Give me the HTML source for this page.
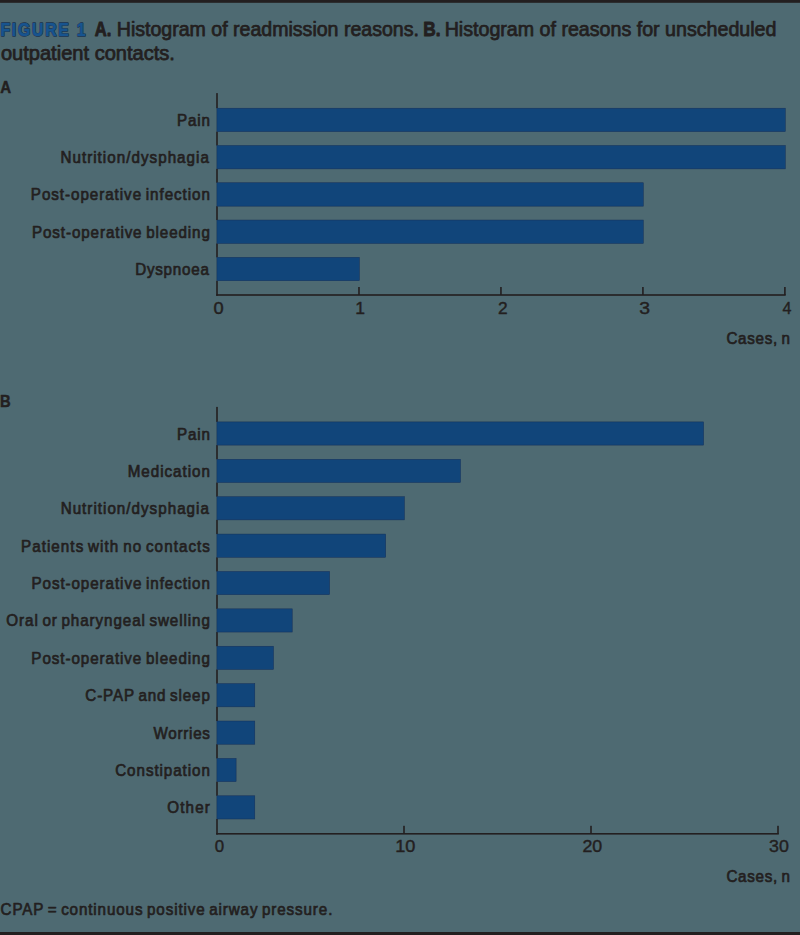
<!DOCTYPE html>
<html><head><meta charset="utf-8"><style>html,body{margin:0;padding:0;background:#4e6a72;width:800px;height:935px;overflow:hidden}</style></head>
<body><svg width="800" height="935" viewBox="0 0 800 935" style="display:block"><rect x="0" y="0" width="800" height="935" fill="#4e6a72"/><rect x="0" y="0" width="800" height="2.8" fill="#231f20"/><rect x="0" y="932" width="800" height="3" fill="#231f20"/><rect x="216.20" y="93.10" width="1.6" height="15.10" fill="#231f20"/><rect x="216.20" y="131.60" width="1.6" height="13.88" fill="#231f20"/><rect x="216.20" y="168.88" width="1.6" height="13.88" fill="#231f20"/><rect x="216.20" y="206.16" width="1.6" height="13.88" fill="#231f20"/><rect x="216.20" y="243.44" width="1.6" height="13.88" fill="#231f20"/><rect x="216.20" y="280.72" width="1.6" height="15.08" fill="#231f20"/><rect x="216.20" y="294.20" width="569.50" height="1.6" fill="#231f20"/><rect x="358.18" y="287.00" width="1.6" height="8" fill="#231f20"/><rect x="500.15" y="287.00" width="1.6" height="8" fill="#231f20"/><rect x="642.12" y="287.00" width="1.6" height="8" fill="#231f20"/><rect x="784.10" y="287.00" width="1.6" height="8" fill="#231f20"/><rect x="216.90" y="108.20" width="568.40" height="23.40" fill="#11457a" stroke="#15305a" stroke-width="0.5"/><rect x="216.90" y="145.48" width="568.40" height="23.40" fill="#11457a" stroke="#15305a" stroke-width="0.5"/><rect x="216.90" y="182.76" width="426.42" height="23.40" fill="#11457a" stroke="#15305a" stroke-width="0.5"/><rect x="216.90" y="220.04" width="426.42" height="23.40" fill="#11457a" stroke="#15305a" stroke-width="0.5"/><rect x="216.90" y="257.32" width="142.47" height="23.40" fill="#11457a" stroke="#15305a" stroke-width="0.5"/><rect x="216.20" y="406.90" width="1.6" height="15.00" fill="#231f20"/><rect x="216.20" y="445.10" width="1.6" height="14.19" fill="#231f20"/><rect x="216.20" y="482.49" width="1.6" height="14.19" fill="#231f20"/><rect x="216.20" y="519.88" width="1.6" height="14.19" fill="#231f20"/><rect x="216.20" y="557.27" width="1.6" height="14.19" fill="#231f20"/><rect x="216.20" y="594.66" width="1.6" height="14.19" fill="#231f20"/><rect x="216.20" y="632.05" width="1.6" height="14.19" fill="#231f20"/><rect x="216.20" y="669.44" width="1.6" height="14.19" fill="#231f20"/><rect x="216.20" y="706.83" width="1.6" height="14.19" fill="#231f20"/><rect x="216.20" y="744.22" width="1.6" height="14.19" fill="#231f20"/><rect x="216.20" y="781.61" width="1.6" height="14.19" fill="#231f20"/><rect x="216.20" y="819.00" width="1.6" height="15.60" fill="#231f20"/><rect x="216.20" y="833.00" width="562.60" height="1.6" fill="#231f20"/><rect x="403.20" y="825.80" width="1.6" height="8" fill="#231f20"/><rect x="590.20" y="825.80" width="1.6" height="8" fill="#231f20"/><rect x="777.20" y="825.80" width="1.6" height="8" fill="#231f20"/><rect x="216.90" y="421.90" width="486.70" height="23.20" fill="#11457a" stroke="#15305a" stroke-width="0.5"/><rect x="216.90" y="459.29" width="243.60" height="23.20" fill="#11457a" stroke="#15305a" stroke-width="0.5"/><rect x="216.90" y="496.68" width="187.50" height="23.20" fill="#11457a" stroke="#15305a" stroke-width="0.5"/><rect x="216.90" y="534.07" width="168.80" height="23.20" fill="#11457a" stroke="#15305a" stroke-width="0.5"/><rect x="216.90" y="571.46" width="112.70" height="23.20" fill="#11457a" stroke="#15305a" stroke-width="0.5"/><rect x="216.90" y="608.85" width="75.30" height="23.20" fill="#11457a" stroke="#15305a" stroke-width="0.5"/><rect x="216.90" y="646.24" width="56.60" height="23.20" fill="#11457a" stroke="#15305a" stroke-width="0.5"/><rect x="216.90" y="683.63" width="37.90" height="23.20" fill="#11457a" stroke="#15305a" stroke-width="0.5"/><rect x="216.90" y="721.02" width="37.90" height="23.20" fill="#11457a" stroke="#15305a" stroke-width="0.5"/><rect x="216.90" y="758.41" width="19.20" height="23.20" fill="#11457a" stroke="#15305a" stroke-width="0.5"/><rect x="216.90" y="795.80" width="37.90" height="23.20" fill="#11457a" stroke="#15305a" stroke-width="0.5"/><g font-family='"Liberation Sans", sans-serif'><text class="dup" transform="translate(0.50,36.20) scale(0.88,1)" x="0" y="0" font-size="18" font-weight="bold" text-anchor="start" fill="#1e2a3a" stroke="#1e2a3a" stroke-width="1.4" stroke-linejoin="round" textLength="96.525" lengthAdjust="spacing">FIGURE 1</text><text transform="translate(0.50,36.20) scale(0.88,1)" x="0" y="0" font-size="18" font-weight="bold" text-anchor="start" fill="#17548f" stroke="#17548f" stroke-width="0.7" stroke-linejoin="round" textLength="96.525" lengthAdjust="spacing">FIGURE 1</text><text x="94.80" y="36.20" font-size="19.5" font-weight="bold" text-anchor="start" fill="#231f20" stroke="#231f20" stroke-width="0.9" stroke-linejoin="round" textLength="16.558" lengthAdjust="spacingAndGlyphs">A.</text><text x="116.80" y="36.20" font-size="19.5" font-weight="normal" text-anchor="start" fill="#231f20" stroke="#231f20" stroke-width="0.75" stroke-linejoin="round" textLength="302.111" lengthAdjust="spacingAndGlyphs">Histogram of readmission reasons.</text><text x="423.30" y="36.20" font-size="19.5" font-weight="bold" text-anchor="start" fill="#231f20" stroke="#231f20" stroke-width="0.9" stroke-linejoin="round" textLength="17.259" lengthAdjust="spacingAndGlyphs">B.</text><text x="444.65" y="36.20" font-size="19.5" font-weight="normal" text-anchor="start" fill="#231f20" stroke="#231f20" stroke-width="0.75" stroke-linejoin="round" textLength="331.796" lengthAdjust="spacingAndGlyphs">Histogram of reasons for unscheduled</text><text x="0.90" y="60.20" font-size="19.5" font-weight="normal" text-anchor="start" fill="#231f20" stroke="#231f20" stroke-width="0.75" stroke-linejoin="round" textLength="174.075" lengthAdjust="spacingAndGlyphs">outpatient contacts.</text><text x="0.30" y="92.50" font-size="17" font-weight="bold" text-anchor="start" fill="#231f20" stroke="#231f20" stroke-width="0.5" stroke-linejoin="round" textLength="10.854" lengthAdjust="spacingAndGlyphs">A</text><text x="0.10" y="406.50" font-size="17" font-weight="bold" text-anchor="start" fill="#231f20" stroke="#231f20" stroke-width="0.5" stroke-linejoin="round" textLength="10.690" lengthAdjust="spacingAndGlyphs">B</text><text transform="translate(209.90,125.90) scale(0.95,1)" x="0" y="0" word-spacing="-1.5" font-size="16" font-weight="normal" text-anchor="end" fill="#231f20" stroke="#231f20" stroke-width="0.7" stroke-linejoin="round" textLength="34.722" lengthAdjust="spacing">Pain</text><text transform="translate(208.90,163.18) scale(0.95,1)" x="0" y="0" word-spacing="-1.5" font-size="16" font-weight="normal" text-anchor="end" fill="#231f20" stroke="#231f20" stroke-width="0.7" stroke-linejoin="round" textLength="156.297" lengthAdjust="spacing">Nutrition/dysphagia</text><text transform="translate(209.90,200.46) scale(0.95,1)" x="0" y="0" word-spacing="-1.5" font-size="16" font-weight="normal" text-anchor="end" fill="#231f20" stroke="#231f20" stroke-width="0.7" stroke-linejoin="round" textLength="188.481" lengthAdjust="spacing">Post-operative infection</text><text transform="translate(209.90,237.74) scale(0.95,1)" x="0" y="0" word-spacing="-1.5" font-size="16" font-weight="normal" text-anchor="end" fill="#231f20" stroke="#231f20" stroke-width="0.7" stroke-linejoin="round" textLength="187.301" lengthAdjust="spacing">Post-operative bleeding</text><text transform="translate(208.90,275.02) scale(0.95,1)" x="0" y="0" word-spacing="-1.5" font-size="16" font-weight="normal" text-anchor="end" fill="#231f20" stroke="#231f20" stroke-width="0.7" stroke-linejoin="round" textLength="77.606" lengthAdjust="spacing">Dyspnoea</text><text x="218.60" y="313.60" word-spacing="-1.5" font-size="16" font-weight="normal" text-anchor="middle" fill="#231f20" stroke="#231f20" stroke-width="0.4" stroke-linejoin="round" textLength="10.157" lengthAdjust="spacingAndGlyphs">0</text><text x="360.15" y="313.60" word-spacing="-1.5" font-size="16" font-weight="normal" text-anchor="middle" fill="#231f20" stroke="#231f20" stroke-width="0.4" stroke-linejoin="round" textLength="9.737" lengthAdjust="spacingAndGlyphs">1</text><text x="502.75" y="313.60" word-spacing="-1.5" font-size="16" font-weight="normal" text-anchor="middle" fill="#231f20" stroke="#231f20" stroke-width="0.4" stroke-linejoin="round" textLength="9.639" lengthAdjust="spacingAndGlyphs">2</text><text x="644.60" y="313.60" word-spacing="-1.5" font-size="16" font-weight="normal" text-anchor="middle" fill="#231f20" stroke="#231f20" stroke-width="0.4" stroke-linejoin="round" textLength="10.773" lengthAdjust="spacingAndGlyphs">3</text><text x="786.90" y="313.60" word-spacing="-1.5" font-size="16" font-weight="normal" text-anchor="middle" fill="#231f20" stroke="#231f20" stroke-width="0.4" stroke-linejoin="round" textLength="8.928" lengthAdjust="spacingAndGlyphs">4</text><text transform="translate(789.90,344.10) scale(0.95,1)" x="0" y="0" word-spacing="-1.5" font-size="16" font-weight="normal" text-anchor="end" fill="#231f20" stroke="#231f20" stroke-width="0.7" stroke-linejoin="round" textLength="66.787" lengthAdjust="spacing">Cases, n</text><text transform="translate(209.90,439.50) scale(0.95,1)" x="0" y="0" word-spacing="-1.5" font-size="16" font-weight="normal" text-anchor="end" fill="#231f20" stroke="#231f20" stroke-width="0.7" stroke-linejoin="round" textLength="34.533" lengthAdjust="spacing">Pain</text><text transform="translate(209.90,476.89) scale(0.95,1)" x="0" y="0" word-spacing="-1.5" font-size="16" font-weight="normal" text-anchor="end" fill="#231f20" stroke="#231f20" stroke-width="0.7" stroke-linejoin="round" textLength="86.594" lengthAdjust="spacing">Medication</text><text transform="translate(208.90,514.28) scale(0.95,1)" x="0" y="0" word-spacing="-1.5" font-size="16" font-weight="normal" text-anchor="end" fill="#231f20" stroke="#231f20" stroke-width="0.7" stroke-linejoin="round" textLength="156.060" lengthAdjust="spacing">Nutrition/dysphagia</text><text transform="translate(209.90,551.67) scale(0.95,1)" x="0" y="0" word-spacing="-1.5" font-size="16" font-weight="normal" text-anchor="end" fill="#231f20" stroke="#231f20" stroke-width="0.7" stroke-linejoin="round" textLength="198.861" lengthAdjust="spacing">Patients with no contacts</text><text transform="translate(209.90,589.06) scale(0.95,1)" x="0" y="0" word-spacing="-1.5" font-size="16" font-weight="normal" text-anchor="end" fill="#231f20" stroke="#231f20" stroke-width="0.7" stroke-linejoin="round" textLength="187.842" lengthAdjust="spacing">Post-operative infection</text><text transform="translate(209.90,626.45) scale(0.95,1)" x="0" y="0" word-spacing="-1.5" font-size="16" font-weight="normal" text-anchor="end" fill="#231f20" stroke="#231f20" stroke-width="0.7" stroke-linejoin="round" textLength="214.273" lengthAdjust="spacing">Oral or pharyngeal swelling</text><text transform="translate(209.90,663.84) scale(0.95,1)" x="0" y="0" word-spacing="-1.5" font-size="16" font-weight="normal" text-anchor="end" fill="#231f20" stroke="#231f20" stroke-width="0.7" stroke-linejoin="round" textLength="187.940" lengthAdjust="spacing">Post-operative bleeding</text><text transform="translate(209.90,701.23) scale(0.95,1)" x="0" y="0" word-spacing="-1.5" font-size="16" font-weight="normal" text-anchor="end" fill="#231f20" stroke="#231f20" stroke-width="0.7" stroke-linejoin="round" textLength="131.155" lengthAdjust="spacing">C-PAP and sleep</text><text transform="translate(209.90,738.62) scale(0.95,1)" x="0" y="0" word-spacing="-1.5" font-size="16" font-weight="normal" text-anchor="end" fill="#231f20" stroke="#231f20" stroke-width="0.7" stroke-linejoin="round" textLength="59.309" lengthAdjust="spacing">Worries</text><text transform="translate(209.90,776.01) scale(0.95,1)" x="0" y="0" word-spacing="-1.5" font-size="16" font-weight="normal" text-anchor="end" fill="#231f20" stroke="#231f20" stroke-width="0.7" stroke-linejoin="round" textLength="99.658" lengthAdjust="spacing">Constipation</text><text transform="translate(209.90,813.40) scale(0.95,1)" x="0" y="0" word-spacing="-1.5" font-size="16" font-weight="normal" text-anchor="end" fill="#231f20" stroke="#231f20" stroke-width="0.7" stroke-linejoin="round" textLength="44.916" lengthAdjust="spacing">Other</text><text x="219.40" y="852.40" word-spacing="-1.5" font-size="16" font-weight="normal" text-anchor="middle" fill="#231f20" stroke="#231f20" stroke-width="0.4" stroke-linejoin="round" textLength="9.388" lengthAdjust="spacingAndGlyphs">0</text><text x="405.35" y="852.40" word-spacing="-1.5" font-size="16" font-weight="normal" text-anchor="middle" fill="#231f20" stroke="#231f20" stroke-width="0.4" stroke-linejoin="round" textLength="20.176" lengthAdjust="spacingAndGlyphs">10</text><text x="592.35" y="852.40" word-spacing="-1.5" font-size="16" font-weight="normal" text-anchor="middle" fill="#231f20" stroke="#231f20" stroke-width="0.4" stroke-linejoin="round" textLength="19.771" lengthAdjust="spacingAndGlyphs">20</text><text x="779.00" y="852.40" word-spacing="-1.5" font-size="16" font-weight="normal" text-anchor="middle" fill="#231f20" stroke="#231f20" stroke-width="0.4" stroke-linejoin="round" textLength="19.804" lengthAdjust="spacingAndGlyphs">30</text><text transform="translate(789.90,881.80) scale(0.95,1)" x="0" y="0" word-spacing="-1.5" font-size="16" font-weight="normal" text-anchor="end" fill="#231f20" stroke="#231f20" stroke-width="0.7" stroke-linejoin="round" textLength="66.787" lengthAdjust="spacing">Cases, n</text><text transform="translate(0.60,914.90) scale(0.95,1)" x="0" y="0" word-spacing="-1.5" font-size="16" font-weight="normal" text-anchor="start" fill="#231f20" stroke="#231f20" stroke-width="0.7" stroke-linejoin="round" textLength="349.230" lengthAdjust="spacing">CPAP = continuous positive airway pressure.</text></g></svg></body></html>
